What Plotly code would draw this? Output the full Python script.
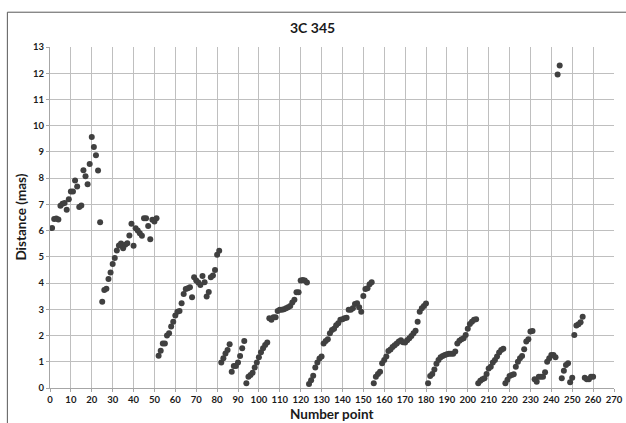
import plotly.graph_objects as go

# Measured component distance (mas) for each consecutive point of 3C 345
distance_mas = [
    # points 1-24
    6.10, 6.44, 6.46, 6.42, 6.95, 7.02, 7.05, 6.80, 7.20, 7.49, 7.49, 7.91,
    7.68, 6.90, 6.96, 8.30, 8.07, 7.77, 8.54, 9.57, 9.19, 8.87, 8.29, 6.32,
    # points 25-51
    3.29, 3.74, 3.78, 4.16, 4.40, 4.73, 4.96, 5.24, 5.43, 5.51, 5.33, 5.46,
    5.52, 5.81, 6.26, 5.42, 6.09, 6.00, 5.90, 5.80, 6.47, 6.47, 6.18, 5.67,
    6.41, 6.35, 6.47,
    # points 52-81
    1.23, 1.42, 1.70, 1.70, 2.00, 2.09, 2.34, 2.53, 2.76, 2.91, 2.94, 3.23,
    3.58, 3.77, 3.80, 3.84, 3.46, 4.22, 4.10, 4.02, 3.93, 4.27, 4.03, 3.49,
    3.66, 4.22, 4.29, 4.50, 5.08, 5.23,
    # points 82-93
    0.97, 1.13, 1.32, 1.45, 1.67, 0.62, 0.84, 0.84, 0.97, 1.22, 1.52, 1.79,
    # points 94-104
    0.18, 0.43, 0.50, 0.58, 0.78, 0.97, 1.17, 1.36, 1.52, 1.64, 1.73,
    # points 105-123
    2.66, 2.60, 2.70, 2.70, 2.94, 2.98, 2.98, 3.00, 3.04, 3.08, 3.13, 3.26,
    3.36, 3.65, 3.65, 4.10, 4.12, 4.10, 4.02,
    # points 124-154
    0.15, 0.30, 0.47, 0.78, 0.97, 1.12, 1.20, 1.70, 1.79, 1.86, 2.09, 2.21,
    2.26, 2.39, 2.47, 2.60, 2.62, 2.66, 2.68, 2.98, 2.98, 3.04, 3.20, 3.23,
    3.08, 2.91, 3.51, 3.77, 3.80, 3.96, 4.03,
    # points 155-180
    0.18, 0.43, 0.53, 0.62, 0.94, 1.07, 1.20, 1.41, 1.47, 1.56, 1.63, 1.70,
    1.77, 1.82, 1.74, 1.73, 1.82, 1.90, 1.98, 2.09, 2.18, 2.53, 2.91, 3.04,
    3.13, 3.22,
    # points 181-204
    0.18, 0.46, 0.53, 0.71, 0.92, 1.07, 1.17, 1.22, 1.26, 1.29, 1.31, 1.31,
    1.31, 1.39, 1.70, 1.80, 1.86, 1.90, 2.02, 2.26, 2.44, 2.53, 2.60, 2.62,
    # points 205-217
    0.18, 0.28, 0.33, 0.37, 0.53, 0.74, 0.81, 0.97, 1.07, 1.20, 1.35, 1.45,
    1.50,
    # points 218-231
    0.18, 0.31, 0.46, 0.50, 0.52, 0.81, 1.00, 1.13, 1.22, 1.48, 1.77, 1.86,
    2.15, 2.17,
    # points 232-260
    0.33, 0.24, 0.43, 0.43, 0.43, 0.60, 1.00, 1.13, 1.26, 1.26, 1.17, 11.95,
    12.29, 0.37, 0.66, 0.88, 0.94, 0.22, 0.39, 2.02, 2.38, 2.43, 2.51, 2.72,
    0.39, 0.33, 0.33, 0.43, 0.43,
]
point_number = list(range(1, len(distance_mas) + 1))

x_ticks = list(range(0, 271, 10))
y_ticks = list(range(0, 14))

chart_title = "3C 345"
x_title = "Number point"
y_title = "Distance (mas)"

FONT = "Lato"
GRID = "#bfbfbf"
AXIS = "#a6a6a6"
MARK = "#404040"

fig = go.Figure(
    go.Scatter(
        x=point_number,
        y=distance_mas,
        mode="markers",
        marker=dict(size=6, color=MARK, line=dict(width=0)),
        hoverinfo="x+y",
    )
)

axis_common = dict(
    showgrid=True,
    gridcolor=GRID,
    gridwidth=1,
    showline=True,
    linecolor=AXIS,
    linewidth=1,
    ticks="outside",
    ticklen=3,
    tickcolor=AXIS,
    tickfont=dict(family=FONT, size=9.5, color="#1a1a1a", weight="bold"),
    zeroline=False,
    fixedrange=True,
)

fig.update_xaxes(
    range=[0, 270],
    tickvals=x_ticks,
    ticktext=[str(v) for v in x_ticks],
    ticklabeloverflow="allow",
    **axis_common,
)
fig.update_yaxes(
    range=[0, 13],
    tickvals=y_ticks,
    ticktext=[str(v) for v in y_ticks],
    **axis_common,
)

fig.update_layout(
    width=626,
    height=423,
    margin=dict(l=50, r=3, t=47, b=35),
    paper_bgcolor="white",
    plot_bgcolor="white",
    showlegend=False,
    font=dict(family=FONT, color="#1a1a1a"),
    annotations=[
        dict(text=chart_title, xref="paper", yref="paper", x=0.465, y=1.057,
             xanchor="center", yanchor="middle", showarrow=False,
             font=dict(family=FONT, size=14, weight="bold")),
        dict(text=x_title, xref="paper", yref="paper", x=0.5, y=-0.075,
             xanchor="center", yanchor="middle", showarrow=False,
             font=dict(family=FONT, size=13.5, weight="bold")),
        dict(text=y_title, xref="paper", yref="paper", x=-0.053, y=0.5,
             xanchor="center", yanchor="middle", showarrow=False, textangle=-90,
             font=dict(family=FONT, size=13.5, weight="bold")),
    ],
    shapes=[
        # outer chart frame (right and bottom edges fall outside the canvas)
        dict(type="rect", xref="paper", yref="paper",
             x0=-0.0756, x1=1.2, y0=-0.3, y1=1.102,
             line=dict(color="#595959", width=1), fillcolor="rgba(0,0,0,0)",
             layer="above"),
    ],
)

fig.write_html("out.html")
